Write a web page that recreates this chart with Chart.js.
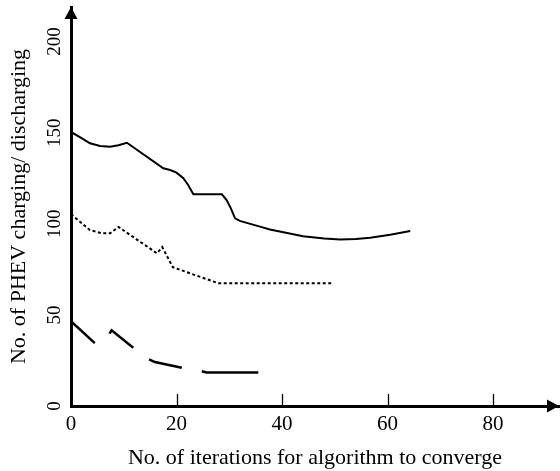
<!DOCTYPE html>
<html>
<head>
<meta charset="utf-8">
<script src="https://cdn.jsdelivr.net/npm/chart.js@4.4.0/dist/chart.umd.min.js"></script>
<style>
  html, body { margin: 0; padding: 0; background: #fff; }
  #wrap { width: 560px; height: 471px; }
</style>
</head>
<body>
<div id="wrap"><canvas id="grafica"></canvas></div>
<script>
// iteraciones (eje x) y numero de PHEV (eje y)
const solidX = [0, 2.0, 3.6, 5.5, 7.4, 9.0, 10.6, 17.5, 18.8, 20.0, 21.3, 22.2, 23.2, 28.6, 29.5, 30.3, 31.1, 32.0, 33.3, 36, 37.7, 44, 48, 51, 54, 56.7, 60.5, 64.3];
const solidY = [150.4, 147, 144.2, 142.7, 142.3, 143.1, 144.5, 130.5, 129.5, 128.1, 125, 121.3, 116.2, 116.2, 113, 108.5, 103, 101.6, 100.5, 98.3, 96.9, 93.2, 92, 91.4, 91.6, 92.3, 94, 96];

const dottedX = [0, 3.6, 5.9, 7.4, 9.0, 16.3, 17.3, 19.3, 22, 27.9, 49.7];
const dottedY = [105.3, 96.5, 94.8, 94.8, 98.3, 83.8, 87.2, 76.2, 73.4, 67.4, 67.4];

const dashedX = [0, 4.5, 7.3, 7.7, 11.8, 14.8, 15.9, 21, 24.8, 25.7, 35.5];
const dashedY = [46.5, 34.5, 39.7, 41.5, 32, 25.6, 24.1, 21, 19.1, 18.4, 18.4];
// tramos de la linea a trazos que quedan en blanco
const dashedGaps = [1, 4, 7];

const xTicks = [0, 20, 40, 60, 80];
const yTicks = [0, 50, 100, 150, 200];

const fuente = "'Liberation Serif', 'Times New Roman', serif";

function puntos(xs, ys) {
  return xs.map((x, i) => ({ x: x, y: ys[i] }));
}

// flechas en los extremos de los ejes y marcas del eje x hacia dentro
const ejes = {
  id: 'ejes',
  afterDraw(chart) {
    const { ctx, chartArea: a, scales: { x, y } } = chart;
    const x0 = x.getPixelForValue(0);
    const y0 = y.getPixelForValue(0);
    ctx.save();
    ctx.fillStyle = '#000';
    ctx.strokeStyle = '#000';

    ctx.beginPath();
    ctx.moveTo(a.right, y0);
    ctx.lineTo(a.right - 12, y0 - 6.5);
    ctx.lineTo(a.right - 12, y0 + 6.5);
    ctx.closePath();
    ctx.fill();

    ctx.beginPath();
    ctx.moveTo(x0, a.top);
    ctx.lineTo(x0 - 6.5, a.top + 12);
    ctx.lineTo(x0 + 6.5, a.top + 12);
    ctx.closePath();
    ctx.fill();

    ctx.lineWidth = 1.3;
    ctx.beginPath();
    xTicks.forEach(v => {
      if (v === 0) return;
      const px = Math.round(x.getPixelForValue(v)) + 0.5;
      ctx.moveTo(px, y0);
      ctx.lineTo(px, y0 - 12);
    });
    ctx.stroke();
    ctx.restore();
  }
};

new Chart(document.getElementById('grafica'), {
  type: 'line',
  data: {
    datasets: [
      {
        data: puntos(solidX, solidY),
        borderColor: '#000',
        borderWidth: 2,
        pointRadius: 0,
        tension: 0
      },
      {
        data: puntos(dottedX, dottedY),
        borderColor: '#000',
        borderWidth: 2,
        borderDash: [3, 2.5],
        pointRadius: 0,
        tension: 0
      },
      {
        data: puntos(dashedX, dashedY),
        borderColor: '#000',
        borderWidth: 2.5,
        pointRadius: 0,
        tension: 0,
        segment: {
          borderColor: ctx => dashedGaps.includes(ctx.p0DataIndex) ? 'rgba(0,0,0,0)' : '#000'
        }
      }
    ]
  },
  options: {
    responsive: true,
    maintainAspectRatio: false,
    animation: false,
    layout: { padding: { top: 7, right: 1, left: 0, bottom: 0 } },
    plugins: {
      legend: { display: false },
      tooltip: { enabled: false }
    },
    scales: {
      x: {
        type: 'linear',
        min: 0,
        max: 92.5,
        grid: { display: false, drawTicks: false },
        border: { display: true, color: '#000', width: 3 },
        afterBuildTicks: s => { s.ticks = xTicks.map(v => ({ value: v })); },
        afterFit: s => { s.height = 65; s.paddingLeft = 0; s.paddingRight = 0; },
        ticks: {
          color: '#000',
          padding: 6,
          font: { family: fuente, size: 21 }
        },
        title: {
          display: true,
          text: 'No. of iterations for algorithm to converge',
          color: '#000',
          font: { family: fuente, size: 22 },
          padding: { top: 0, bottom: 0 }
        }
      },
      y: {
        type: 'linear',
        min: 0,
        max: 219,
        grid: { display: false, drawTicks: false },
        border: { display: true, color: '#000', width: 3 },
        afterBuildTicks: s => { s.ticks = yTicks.map(v => ({ value: v })); },
        afterFit: s => { s.width = 71; s.paddingTop = 0; s.paddingBottom = 0; },
        ticks: {
          color: '#000',
          padding: 2,
          minRotation: 90,
          maxRotation: 90,
          crossAlign: 'center',
          font: { family: fuente, size: 19 }
        },
        title: {
          display: true,
          text: 'No. of PHEV charging/ discharging',
          color: '#000',
          font: { family: fuente, size: 22 },
          padding: { top: 6, bottom: 0 }
        }
      }
    }
  },
  plugins: [ejes]
});
</script>
</body>
</html>
